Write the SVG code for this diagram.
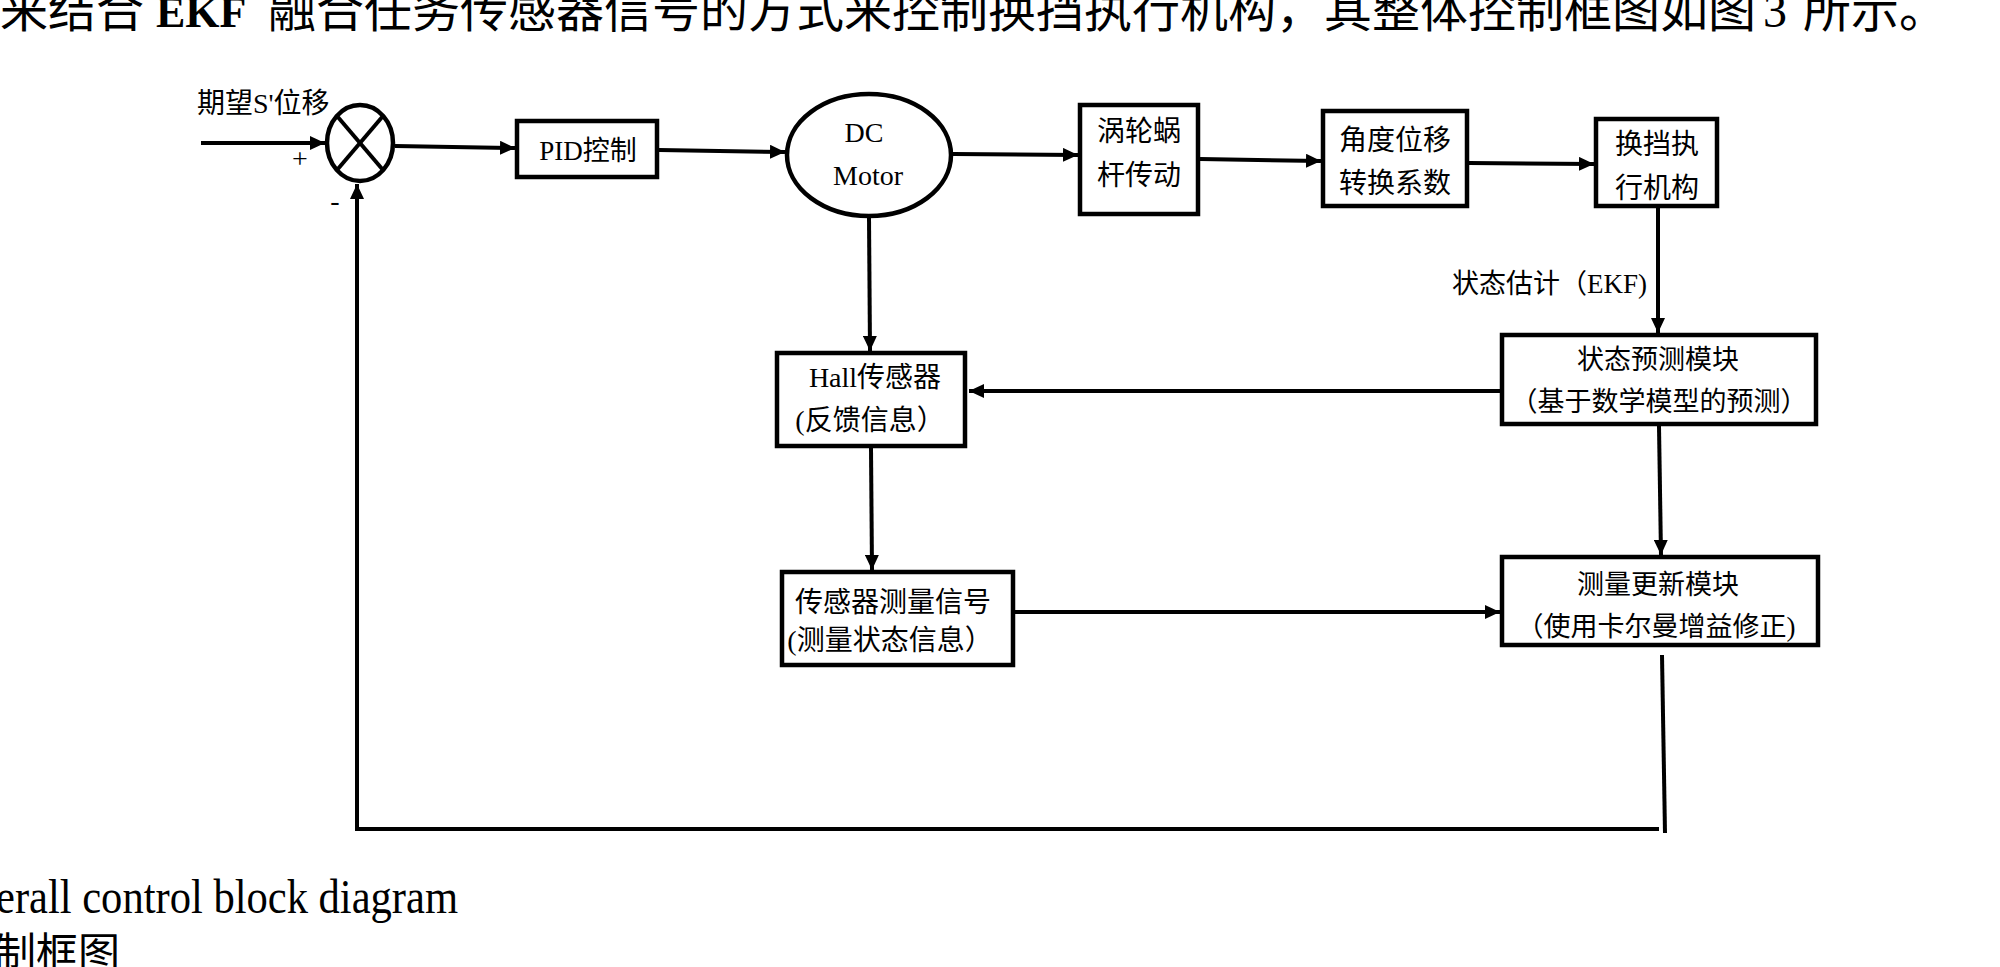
<svg xmlns="http://www.w3.org/2000/svg" width="2000" height="967" viewBox="0 0 2000 967">
<style>
.box{fill:#fff;stroke:#000;stroke-width:4.5}
.conn{fill:none;stroke:#000;stroke-width:4}
.t{font-family:"Liberation Serif","Noto Sans CJK SC",serif;font-size:28px;fill:#000}
.s27{font-size:27px}
.c{text-anchor:middle}
.top{font-family:"Liberation Serif","Noto Sans CJK SC",serif;font-size:48px;fill:#000}
</style>
<defs>
<marker id="arr" markerUnits="userSpaceOnUse" markerWidth="16" markerHeight="14" refX="15" refY="7" orient="auto">
<path d="M0,0 L15,7 L0,14 z" fill="#000"/>
</marker>
</defs>
<rect width="2000" height="967" fill="#fff"/>

<text class="top" y="27"><tspan x="0">来结合</tspan><tspan x="156" font-weight="bold" font-size="44">EKF</tspan><tspan x="268">融合任务传感器信号的方式来控制换挡执行机构，其整体控制框图如图</tspan><tspan x="1763">3</tspan><tspan x="1803">所示。</tspan></text>

<g id="connectors">
<line class="conn" x1="201" y1="143" x2="325" y2="143" marker-end="url(#arr)"/>
<line class="conn" x1="395" y1="146" x2="515" y2="148" marker-end="url(#arr)"/>
<line class="conn" x1="659" y1="150" x2="785" y2="152" marker-end="url(#arr)"/>
<line class="conn" x1="953" y1="154" x2="1078" y2="155" marker-end="url(#arr)"/>
<line class="conn" x1="1200" y1="159" x2="1321" y2="161" marker-end="url(#arr)"/>
<line class="conn" x1="1469" y1="163" x2="1594" y2="164" marker-end="url(#arr)"/>
<line class="conn" x1="1658" y1="208" x2="1658" y2="333" marker-end="url(#arr)"/>
<line class="conn" x1="869" y1="217" x2="870" y2="351" marker-end="url(#arr)"/>
<line class="conn" x1="1500" y1="391" x2="969" y2="391" marker-end="url(#arr)"/>
<line class="conn" x1="871" y1="448" x2="872" y2="570" marker-end="url(#arr)"/>
<line class="conn" x1="1659" y1="426" x2="1661" y2="555" marker-end="url(#arr)"/>
<line class="conn" x1="1015" y1="612" x2="1500" y2="612" marker-end="url(#arr)"/>
<line class="conn" x1="1662" y1="655" x2="1665" y2="833"/>
<path class="conn" d="M1659,829 H357 V184" marker-end="url(#arr)"/>
</g>

<g id="input-label">
<text class="t" x="197" y="113">期望S'位移</text>
<text class="t" x="300" y="168" font-size="24" text-anchor="middle">+</text>
<text class="t" x="335" y="210" font-size="24" text-anchor="middle">-</text>
</g>

<g id="sum">
<ellipse cx="360" cy="143" rx="33" ry="38" class="box"/>
<line x1="337" y1="116" x2="383" y2="170" stroke="#000" stroke-width="4"/>
<line x1="383" y1="116" x2="337" y2="170" stroke="#000" stroke-width="4"/>
</g>

<g id="pid">
<rect class="box" x="517" y="121" width="140" height="56"/>
<text class="t s27 c" x="588" y="160">PID控制</text>
</g>

<g id="motor">
<ellipse class="box" cx="869" cy="155" rx="82" ry="61"/>
<text class="t c" x="864" y="142" font-size="30">DC</text>
<text class="t c" x="868" y="185" font-size="29">Motor</text>
</g>

<g id="worm">
<rect class="box" x="1080" y="105" width="118" height="109"/>
<text class="t c" x="1139" y="141">涡轮蜗</text>
<text class="t c" x="1139" y="185">杆传动</text>
</g>

<g id="angle">
<rect class="box" x="1323" y="111" width="144" height="95"/>
<text class="t c" x="1395" y="150">角度位移</text>
<text class="t c" x="1395" y="193">转换系数</text>
</g>

<g id="gear">
<rect class="box" x="1596" y="119" width="121" height="87"/>
<text class="t c" x="1657" y="154">换挡执</text>
<text class="t c" x="1657" y="198">行机构</text>
</g>

<g id="ekf-label">
<text class="t s27" x="1452" y="293">状态估计（EKF)</text>
</g>

<g id="predict">
<rect class="box" x="1502" y="335" width="314" height="89"/>
<text class="t s27 c" x="1658" y="369">状态预测模块</text>
<text class="t s27 c" x="1659" y="411">（基于数学模型的预测）</text>
</g>

<g id="hall">
<rect class="box" x="777" y="353" width="188" height="93"/>
<text class="t c" x="875" y="387">Hall传感器</text>
<text class="t c" x="870" y="430">(反馈信息）</text>
</g>

<g id="sensor">
<rect class="box" x="782" y="572" width="231" height="93"/>
<text class="t c" x="893" y="612">传感器测量信号</text>
<text class="t c" x="890" y="650">(测量状态信息）</text>
</g>

<g id="update">
<rect class="box" x="1502" y="557" width="316" height="88"/>
<text class="t s27 c" x="1658" y="594">测量更新模块</text>
<text class="t s27 c" x="1656" y="636">（使用卡尔曼增益修正)</text>
</g>

<g id="caption">
<text x="-4" y="913" font-family="Liberation Serif, serif" font-size="48" textLength="462" lengthAdjust="spacingAndGlyphs">erall control block diagram</text>
<text x="-6" y="968" font-family="Noto Sans CJK SC, sans-serif" font-size="42">制框图</text>
</g>
</svg>
